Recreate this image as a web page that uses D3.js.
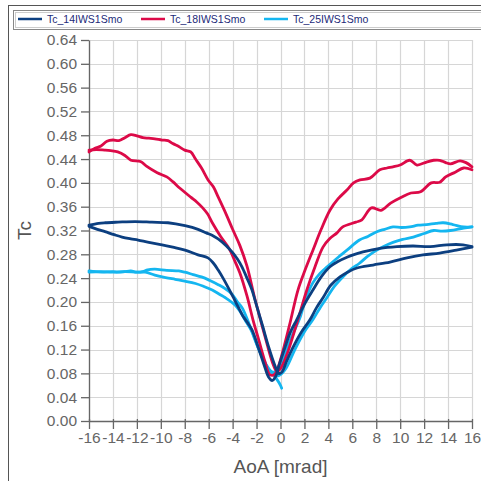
<!DOCTYPE html>
<html>
<head>
<meta charset="utf-8">
<script src="https://cdn.jsdelivr.net/npm/d3@7"></script>
<style>
  body { margin: 0; background: #fff; }
  svg { display: block; font-family: "Liberation Sans", Arial, sans-serif; }
</style>
</head>
<body>
<svg width="481" height="481"></svg>
<script>
// ticks
var xTicks = [-16, -14, -12, -10, -8, -6, -4, -2, 0, 2, 4, 6, 8, 10, 12, 14, 16];
var yTicks = [0, 0.04, 0.08, 0.12, 0.16, 0.20, 0.24, 0.28, 0.32, 0.36, 0.40, 0.44, 0.48, 0.52, 0.56, 0.60, 0.64];

var seriesNames = ["Tc_14IWS1Smo", "Tc_18IWS1Smo", "Tc_25IWS1Smo"];
var seriesColors = ["#0c3f80", "#dc0a48", "#14b6f0"];

// Tc_14 : two branches of the loop, [AoA, Tc]
var tc14_a = [[-16,0.327],[-15.3,0.322],[-14.66,0.318],[-13.9,0.313],[-13.24,0.309],[-12.5,0.306],[-11.9,0.304],[-11,0.30],[-9.9,0.296],[-9,0.292],[-7.98,0.287],[-6.89,0.279],[-6.06,0.274],[-5.6,0.265],[-5.22,0.254],[-4.8,0.24],[-4.39,0.225],[-3.95,0.208],[-3.55,0.192],[-3.1,0.175],[-2.72,0.164],[-2.38,0.153],[-1.8,0.12],[-1.3,0.09],[-1.0,0.074],[-0.7,0.068],[-0.4,0.075],[-0.1,0.095],[0.4,0.125],[0.8,0.148],[1.35,0.17],[2.0,0.196],[2.71,0.22],[3.4,0.242],[4.13,0.259],[4.8,0.268],[5.55,0.275],[6.2,0.28],[6.89,0.284],[8.3,0.29],[9.73,0.293],[11.07,0.294],[12.5,0.293],[13.9,0.296],[15.24,0.296],[16,0.293]];
var tc14_b = [[-16,0.329],[-15.2,0.332],[-14.66,0.333],[-13.58,0.334],[-12.16,0.335],[-10.74,0.334],[-9.4,0.333],[-7.98,0.328],[-6.89,0.322],[-6.2,0.316],[-5.72,0.312],[-4.89,0.301],[-4.05,0.284],[-3.6,0.272],[-3.22,0.259],[-2.8,0.24],[-2.38,0.22],[-2.13,0.203],[-1.5,0.16],[-1.0,0.125],[-0.5,0.095],[-0.15,0.08],[0.1,0.082],[0.5,0.1],[1.0,0.122],[1.7,0.148],[2.46,0.17],[3.0,0.19],[3.55,0.207],[4.2,0.228],[4.97,0.242],[5.6,0.25],[6.39,0.257],[7.73,0.262],[9.15,0.267],[10.57,0.274],[11.9,0.279],[13.3,0.282],[14.7,0.287],[16,0.292]];

// Tc_18
var tc18_a = [[-16,0.452],[-15.5,0.458],[-15,0.462],[-14.5,0.47],[-14,0.472],[-13.5,0.471],[-13,0.476],[-12.5,0.481],[-12,0.479],[-11.5,0.476],[-11,0.475],[-10.5,0.474],[-9.9,0.472],[-9.4,0.471],[-9,0.466],[-8.5,0.461],[-8,0.455],[-7.5,0.452],[-7.1,0.44],[-6.6,0.425],[-6.05,0.405],[-5.6,0.393],[-5.2,0.376],[-4.6,0.35],[-4.0,0.322],[-3.4,0.295],[-2.8,0.26],[-2.2,0.21],[-1.7,0.172],[-1.2,0.135],[-0.7,0.1],[-0.3,0.083],[0,0.088],[0.5,0.11],[1.0,0.14],[1.6,0.18],[2.2,0.22],[2.9,0.26],[3.55,0.292],[4.1,0.306],[4.72,0.316],[5.2,0.326],[6.3,0.334],[6.8,0.338],[7.6,0.358],[8.4,0.354],[9.2,0.366],[10.1,0.376],[10.9,0.383],[11.7,0.385],[12.6,0.4],[13.3,0.401],[13.8,0.41],[14.6,0.418],[15.3,0.425],[16,0.422]];
var tc18_b = [[-16,0.455],[-15.4,0.456],[-14.7,0.455],[-14.2,0.454],[-13.6,0.452],[-13,0.446],[-12.5,0.438],[-11.7,0.436],[-11.2,0.428],[-10.3,0.417],[-9.5,0.41],[-9,0.402],[-8.4,0.391],[-7.5,0.376],[-7,0.368],[-6.5,0.358],[-6.1,0.348],[-5.7,0.333],[-5.0,0.31],[-4.3,0.29],[-3.8,0.268],[-3.4,0.249],[-2.8,0.21],[-2.3,0.17],[-1.8,0.135],[-1.3,0.1],[-0.9,0.078],[-0.5,0.078],[-0.2,0.09],[0.3,0.125],[0.8,0.165],[1.46,0.22],[2.1,0.256],[2.71,0.287],[3.4,0.322],[4.13,0.354],[4.8,0.373],[5.55,0.388],[6.1,0.4],[6.64,0.405],[7.47,0.408],[8.3,0.422],[8.9,0.425],[9.4,0.427],[10,0.43],[10.8,0.438],[11.4,0.43],[12.2,0.435],[12.8,0.438],[13.3,0.438],[13.8,0.434],[14.2,0.432],[15,0.437],[15.5,0.434],[16,0.427]];

// Tc_25
var tc25_a = [[-16,0.25],[-15,0.251],[-14,0.25],[-13,0.251],[-12,0.25],[-11.3,0.25],[-10.5,0.245],[-9.6,0.241],[-8.8,0.238],[-8,0.235],[-7.1,0.231],[-6.4,0.226],[-5.7,0.22],[-5.1,0.213],[-4.6,0.207],[-3.8,0.195],[-3.4,0.185],[-2.97,0.17],[-2.38,0.15],[-1.8,0.12],[-1.3,0.097],[-0.9,0.085],[-0.5,0.082],[-0.1,0.09],[0.4,0.115],[1.0,0.145],[1.6,0.172],[2.1,0.205],[2.7,0.232],[3.3,0.248],[3.9,0.259],[4.7,0.273],[5.55,0.287],[6.6,0.304],[7.3,0.31],[8.05,0.318],[8.7,0.322],[9.4,0.326],[10.1,0.325],[10.8,0.326],[11.5,0.329],[12.2,0.33],[13,0.332],[13.6,0.333],[14.4,0.33],[15.3,0.326],[16,0.326]];
var tc25_b = [[-16,0.252],[-15,0.25],[-14,0.251],[-13.6,0.25],[-13,0.251],[-12.5,0.252],[-12,0.25],[-11.5,0.251],[-11.1,0.254],[-10.5,0.255],[-9.5,0.253],[-8.5,0.252],[-8,0.25],[-7.3,0.246],[-6.6,0.242],[-5.9,0.236],[-5.2,0.229],[-4.6,0.222],[-4.05,0.213],[-3.6,0.2],[-3.2,0.19],[-2.7,0.167],[-2.2,0.14],[-1.7,0.115],[-1.2,0.095],[-0.7,0.08],[-0.3,0.07],[0,0.06],[0.1,0.055]];
var tc25_c = [[-0.4,0.075],[0,0.078],[0.5,0.09],[1.2,0.12],[2,0.15],[2.7,0.17],[3.3,0.19],[3.9,0.208],[4.5,0.226],[5.2,0.242],[5.9,0.255],[6.6,0.265],[7.3,0.277],[8.05,0.287],[8.7,0.294],[9.4,0.3],[10.2,0.305],[11.1,0.309],[12,0.315],[12.8,0.32],[13.5,0.319],[14.2,0.32],[15.3,0.324],[16,0.326]];

var seriesBranches = [[tc14_a, tc14_b], [tc18_a, tc18_b], [tc25_a, tc25_b, tc25_c]];

var svg = d3.select("svg");
var margin = {left: 89, right: 9, top: 40, bottom: 60};
var width = 481, height = 481;

var x = d3.scaleLinear().domain([-16, 16]).range([margin.left, width - margin.right]);
var y = d3.scaleLinear().domain([0, 0.64]).range([height - margin.bottom, margin.top]);

// outer frame + legend box
svg.append("rect").attr("x", 8.5).attr("y", 5.5).attr("width", 480).attr("height", 480)
    .attr("fill", "none").attr("stroke", "#555").attr("stroke-width", 1);
svg.append("rect").attr("x", 13.5).attr("y", 10.5).attr("width", 470).attr("height", 19)
    .attr("fill", "none").attr("stroke", "#888").attr("stroke-width", 1);
svg.append("rect").attr("x", 15.5).attr("y", 12.5).attr("width", 470).attr("height", 15)
    .attr("fill", "none").attr("stroke", "#ccc").attr("stroke-width", 1);

var legendX = [18, 141, 264];
seriesNames.forEach(function(name, i) {
    var g = svg.append("g").attr("transform", "translate(" + legendX[i] + ",19)");
    g.append("line").attr("x1", 0).attr("x2", 24).attr("y1", 0).attr("y2", 0)
        .attr("stroke", seriesColors[i]).attr("stroke-width", 2.5);
    g.append("text").attr("x", 29).attr("y", 4).attr("font-size", 10.5)
        .attr("fill", "#1c2a78").text(name);
});

// grid
var grid = svg.append("g").attr("stroke", "#d6d6d6").attr("stroke-width", 1.2);
grid.selectAll(".gx").data(xTicks).enter().append("line")
    .attr("x1", function(d) { return Math.round(x(d)) + 0.5; })
    .attr("x2", function(d) { return Math.round(x(d)) + 0.5; })
    .attr("y1", y(0.64)).attr("y2", y(0));
grid.selectAll(".gy").data(yTicks).enter().append("line")
    .attr("y1", function(d) { return Math.round(y(d)) + 0.5; })
    .attr("y2", function(d) { return Math.round(y(d)) + 0.5; })
    .attr("x1", x(-16)).attr("x2", x(16));

// axes (plain hyphen for negatives, like the original)
var xAxis = d3.axisBottom(x).tickValues(xTicks).tickSizeInner(8).tickSizeOuter(0).tickPadding(3)
    .tickFormat(function(d) { return String(d); });
var yAxis = d3.axisLeft(y).tickValues(yTicks).tickSizeInner(8).tickSizeOuter(0).tickPadding(4)
    .tickFormat(function(d) { return d.toFixed(2); });

var gx = svg.append("g").attr("transform", "translate(0," + y(0) + ")").call(xAxis);
var gy = svg.append("g").attr("transform", "translate(" + x(-16) + ",0)").call(yAxis);
[gx, gy].forEach(function(g) {
    g.select(".domain").attr("stroke", "#666").attr("stroke-width", 1.3);
    g.selectAll(".tick line").attr("stroke", "#666").attr("stroke-width", 1.3);
    g.selectAll(".tick text").attr("fill", "#666").attr("font-size", 15.5)
        .attr("font-family", "'Liberation Sans', Arial, sans-serif");
});
gx.selectAll(".tick line").attr("y1", -2);

// axis titles
svg.append("text").attr("x", (x(-16) + x(16)) / 2).attr("y", 473).attr("text-anchor", "middle")
    .attr("font-size", 19).attr("fill", "#555").text("AoA [mrad]");
svg.append("text").attr("transform", "translate(31," + y(0.32) + ") rotate(-90)")
    .attr("text-anchor", "middle").attr("font-size", 19).attr("fill", "#555").text("Tc");

// curves
var line = d3.line()
    .x(function(d) { return x(d[0]); })
    .y(function(d) { return y(d[1]); })
    .curve(d3.curveCatmullRom.alpha(0.5));

var drawOrder = [2, 1, 0];
drawOrder.forEach(function(i) {
    svg.append("g").selectAll("path")
        .data(seriesBranches[i])
      .enter().append("path")
        .attr("d", line)
        .attr("fill", "none")
        .attr("stroke", seriesColors[i])
        .attr("stroke-width", 2.8)
        .attr("stroke-linejoin", "round")
        .attr("stroke-linecap", "round");
});
</script>
</body>
</html>
